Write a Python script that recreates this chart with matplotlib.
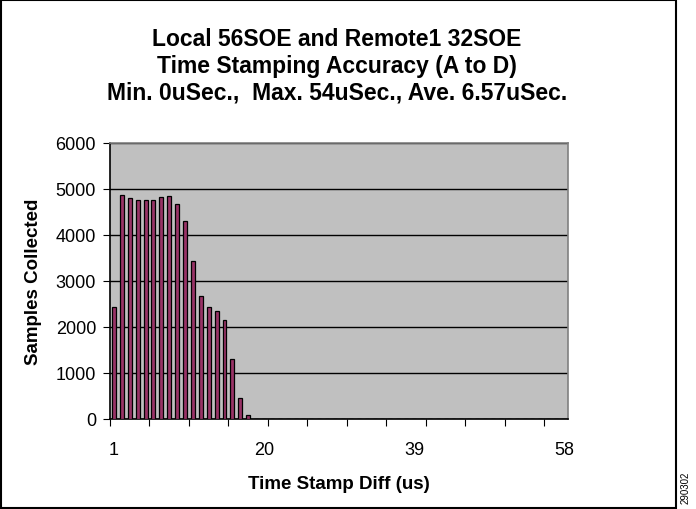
import matplotlib.pyplot as plt
from matplotlib.patches import Rectangle

plt.rcParams['font.family'] = ['Liberation Sans', 'DejaVu Sans']

# samples per time stamp difference bucket (1..58)
counts = [2430, 4870, 4800, 4760, 4760, 4760, 4830, 4850, 4670, 4300,
          3430, 2670, 2430, 2350, 2150, 1300, 450, 90]
counts = counts + [0] * (58 - len(counts))
categories = list(range(1, 59))
shown_labels = [1, 20, 39, 58]
y_ticks = [0, 1000, 2000, 3000, 4000, 5000, 6000]

title = ("Local 56SOE and Remote1 32SOE\n"
         "Time Stamping Accuracy (A to D)\n"
         "Min. 0uSec.,  Max. 54uSec., Ave. 6.57uSec.")

fig = plt.figure(figsize=(6.96, 5.10), dpi=100)
ax = fig.add_axes([110 / 696, 90 / 510, 458 / 696, 276 / 510])

ax.set_facecolor('#c0c0c0')
ax.bar(categories, counts, width=0.5, color='#993366', edgecolor='black',
       linewidth=0.9, zorder=3)

ax.set_xlim(0.5, 58.5)
ax.set_ylim(0, 6000)
ax.set_yticks(y_ticks)
ax.yaxis.grid(True, color='black', linewidth=1.0, zorder=1)

# tick marks between every 5 categories, labels every 19
ax.set_xticks([0.5 + 5 * i for i in range(12)])
ax.set_xticklabels([])
ax.set_xticks(shown_labels, minor=True)
ax.set_xticklabels([str(v) for v in shown_labels], minor=True)
ax.tick_params(axis='x', which='major', direction='out', length=5, color='black')
ax.tick_params(axis='x', which='minor', length=0, pad=16, labelsize=13)
ax.tick_params(axis='y', direction='out', length=5, labelsize=13, pad=5)

for side in ['top', 'right']:
    ax.spines[side].set_color('#808080')
    ax.spines[side].set_linewidth(1.2)
for side in ['left', 'bottom']:
    ax.spines[side].set_color('black')
    ax.spines[side].set_linewidth(1.2)

ax.set_xlabel('Time Stamp Diff (us)', fontsize=13.5, fontweight='bold', labelpad=12)
ax.set_ylabel('Samples Collected', fontsize=13.5, fontweight='bold', labelpad=10)

fig.text(337 / 696, 1 - 66 / 510, title, ha='center', va='center',
         fontsize=16.5, fontweight='bold', linespacing=1.2)

# outer chart frame
fig.patches.append(Rectangle((0.5 / 696, 1 / 510), 675 / 696, 508 / 510,
                             transform=fig.transFigure, fill=False,
                             edgecolor='black', linewidth=1.5))
fig.text(686 / 696, 1 - 488 / 510, '290302', rotation=90, ha='center',
         va='center', fontsize=7)

fig.savefig('out.png', dpi=100)
